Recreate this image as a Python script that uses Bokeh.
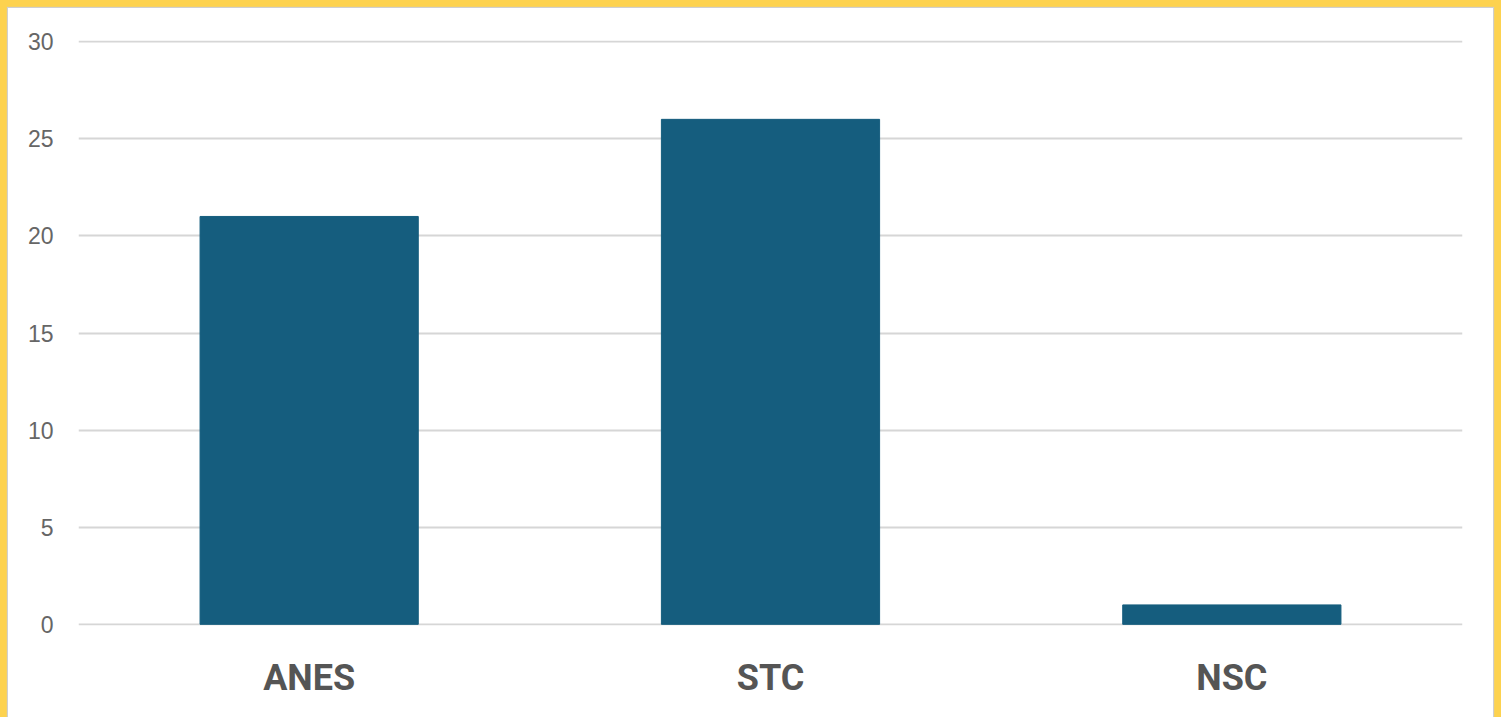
from bokeh.plotting import figure
from bokeh.models import Range1d, GlobalInlineStyleSheet, FixedTicker
from bokeh.embed import file_html
from bokeh.resources import INLINE

categories = ["ANES", "STC", "NSC"]
values = [21, 26, 1]
y_ticks = [0, 5, 10, 15, 20, 25, 30]

p = figure(x_range=categories, y_range=Range1d(-0.06, 30.06), width=1485, height=709,
           output_backend="svg", toolbar_location=None,
           min_border_left=70, min_border_right=31, min_border_top=32, min_border_bottom=92)

p.stylesheets = [GlobalInlineStyleSheet(css=(
    "html,body{margin:0;padding:0;background:#FDD24F;overflow:hidden;}"
    "body{padding:8px 8px 0 8px;}"
    ".bk-Figure{background:#ffffff;box-shadow:0 0 1px 1px #cfcfcf;}"
))]
p.styles = {"background-color": "#ffffff", "box-shadow": "0 0 1px 1px #cfcfcf"}

p.background_fill_color = "white"
p.border_fill_color = "white"
p.outline_line_color = None

p.vbar(x=categories, top=values, width=0.473, color="#155D7E")

p.xgrid.grid_line_color = None
p.ygrid.grid_line_color = "#D6D6D6"
p.ygrid.grid_line_width = 2
p.yaxis.ticker = FixedTicker(ticks=y_ticks)

for ax in (p.xaxis, p.yaxis):
    ax.axis_line_color = None
    ax.major_tick_line_color = None
    ax.minor_tick_line_color = None
    ax.major_tick_out = 0
    ax.major_tick_in = 0
    ax.minor_tick_out = 0

p.yaxis.major_label_text_font = "Liberation Sans"
p.yaxis.major_label_text_font_size = "23px"
p.yaxis.major_label_text_color = "#666666"
p.yaxis.major_label_standoff = 25

p.xaxis.major_label_text_font = "Roboto"
p.xaxis.major_label_text_font_style = "bold"
p.xaxis.major_label_text_font_size = "36px"
p.xaxis.major_label_text_color = "#555555"
p.xaxis.major_label_standoff = 31

open("out.html", "w").write(file_html(p, INLINE))
